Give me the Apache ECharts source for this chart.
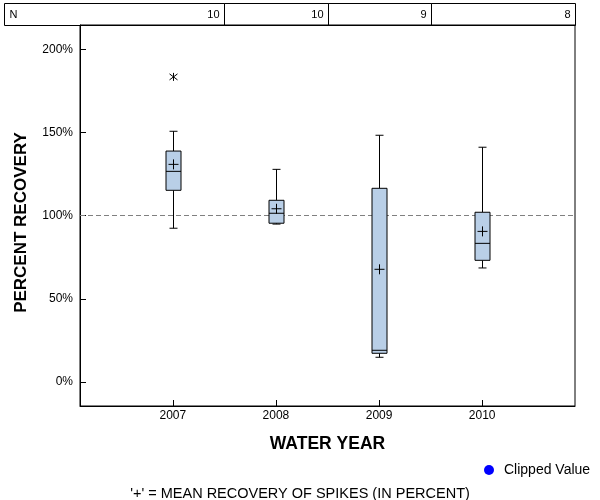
<!DOCTYPE html>
<html>
<head>
<meta charset="utf-8">
<script src="https://cdn.jsdelivr.net/npm/echarts@6/dist/echarts.min.js"></script>
<style>html,body{margin:0;padding:0;background:#fff}#c{width:600px;height:500px}</style>
</head>
<body>
<div id="c"></div>
<script>
// ---- data ----
var years = [2007, 2008, 2009, 2010];
var counts = [10, 10, 9, 8];
var whiskerLow = [92.5, 95.0, 14.9, 68.6];
var q1 = [115.3, 95.5, 17.3, 73.2];
var median = [126.7, 101.5, 19.1, 83.4];
var q3 = [138.9, 109.3, 116.5, 102.1];
var whiskerHigh = [150.8, 127.9, 148.4, 141.2];
var means = [130.9, 104.2, 67.8, 90.6];
var outlierYears = [2007];
var outlierValues = [183.5];
var yTicks = [0, 50, 100, 150, 200];
var referenceValue = 100;

var FONT = "'Liberation Sans', Arial, sans-serif";
var boxData = years.map(function (y, i) {
  return [y, whiskerLow[i], q1[i], median[i], q3[i], whiskerHigh[i], means[i]];
});
var tableData = years.map(function (y, i) { return [y, counts[i], i]; });
var outlierData = outlierYears.map(function (y, i) { return [y, outlierValues[i]]; });

var chart = echarts.init(document.getElementById('c'), null, {renderer: 'canvas'});
var lineStyle = {stroke: '#000', lineWidth: 1};

function renderBox(params, api) {
  var x = api.value(0);
  var pLow = api.coord([x, api.value(1)]);
  var pQ1 = api.coord([x, api.value(2)]);
  var pMed = api.coord([x, api.value(3)]);
  var pQ3 = api.coord([x, api.value(4)]);
  var pHigh = api.coord([x, api.value(5)]);
  var pMean = api.coord([x, api.value(6)]);
  var cx = Math.round(pMed[0]) + 0.5;
  var hw = 7.5, cw = 4, mw = 5;
  function ln(x1, y1, x2, y2) {
    return {type: 'line', shape: {x1: x1, y1: y1, x2: x2, y2: y2}, style: lineStyle};
  }
  return {
    type: 'group',
    children: [
      ln(cx, pHigh[1], cx, pQ3[1]),
      ln(cx, pQ1[1], cx, pLow[1]),
      ln(cx - cw, pHigh[1], cx + cw, pHigh[1]),
      ln(cx - cw, pLow[1], cx + cw, pLow[1]),
      {type: 'rect', shape: {x: cx - hw, y: pQ3[1], width: hw * 2, height: pQ1[1] - pQ3[1]},
        style: {fill: '#B9CFE7', stroke: '#000', lineWidth: 1}},
      ln(cx - hw, pMed[1], cx + hw, pMed[1]),
      ln(cx - mw, pMean[1], cx + mw, pMean[1]),
      ln(cx, pMean[1] - mw, cx, pMean[1] + mw)
    ]
  };
}

function renderOutlier(params, api) {
  var p = api.coord([api.value(0), api.value(1)]);
  var cx = Math.round(p[0]) + 0.5, cy = p[1];
  function ln(x1, y1, x2, y2) {
    return {type: 'line', shape: {x1: x1, y1: y1, x2: x2, y2: y2}, style: lineStyle};
  }
  return {type: 'group', children: [
    ln(cx, cy - 4, cx, cy + 4),
    ln(cx - 4, cy - 3, cx + 4, cy + 3),
    ln(cx - 4, cy + 3, cx + 4, cy - 3)
  ]};
}

var X_MIN = 2006.1, X_MAX = 2010.9;

function renderTable(params, api) {
  var x = api.value(0);
  var idx = api.value(2);
  var cs = params.coordSys;
  var bottom = cs.y;
  var top = cs.y - 22;
  var left = idx === 0 ? cs.x - 76 : api.coord([x - 0.5, 0])[0];
  var right = idx === years.length - 1 ? api.coord([X_MAX, 0])[0] : api.coord([x + 0.5, 0])[0];
  left = Math.round(left) + 0.5; right = Math.round(right) + 0.5;
  var children = [
    {type: 'rect', shape: {x: left, y: top + 0.5, width: right - left, height: bottom - top},
      style: {fill: 'none', stroke: '#000', lineWidth: 1}},
    {type: 'text', style: {text: String(api.value(1)), x: right - 5, y: (top + bottom) / 2 + 1,
      align: 'right', verticalAlign: 'middle', font: '11px ' + FONT, fill: '#000'}}
  ];
  if (idx === 0) {
    children.push({type: 'text', style: {text: 'N', x: left + 5, y: (top + bottom) / 2 + 1,
      align: 'left', verticalAlign: 'middle', font: '11px ' + FONT, fill: '#000'}});
  }
  return {type: 'group', children: children};
}

var option = {
  animation: false,
  backgroundColor: '#fff',
  title: {
    text: "'+' = MEAN RECOVERY OF SPIKES (IN PERCENT)",
    left: 'center', top: 481,
    textStyle: {fontFamily: FONT, fontSize: 14.5, fontWeight: 'normal', color: '#000'}
  },
  legend: {
    data: [{name: 'Clipped Value', icon: 'circle'}],
    left: 479, top: 458,
    itemWidth: 10, itemHeight: 10,
    itemStyle: {opacity: 1},
    textStyle: {fontFamily: FONT, fontSize: 14, color: '#000', padding: [0, 0, 0, 5]}
  },
  grid: {
    left: 80, right: 25, top: 25, bottom: 94,
    show: true, borderColor: '#000', borderWidth: 1, backgroundColor: 'transparent'
  },
  xAxis: {
    type: 'value', min: X_MIN, max: X_MAX,
    name: 'WATER YEAR', nameLocation: 'middle', nameGap: 29,
    nameTextStyle: {fontFamily: FONT, fontSize: 17.5, fontWeight: 'bold', color: '#000'},
    axisLine: {show: true, onZero: false, lineStyle: {color: '#000', width: 1}},
    axisTick: {show: true, inside: true, length: 6, customValues: years, lineStyle: {color: '#000'}},
    axisLabel: {customValues: years, fontFamily: FONT, fontSize: 12, color: '#000', margin: 4,
      formatter: function (v) { return String(v); }},
    splitLine: {show: false}
  },
  yAxis: {
    type: 'value', min: -14.4, max: 214.7,
    name: 'PERCENT RECOVERY', nameLocation: 'middle', nameGap: 50,
    nameTextStyle: {fontFamily: FONT, fontSize: 17, fontWeight: 'bold', color: '#000',
      padding: [0, 14, 0, 0]},
    axisLine: {show: true, onZero: false, lineStyle: {color: '#000', width: 1}},
    axisTick: {show: true, inside: true, length: 6, customValues: yTicks, lineStyle: {color: '#000'}},
    axisLabel: {customValues: yTicks, fontFamily: FONT, fontSize: 12, color: '#000', margin: 7,
      formatter: '{value}%'},
    splitLine: {show: false}
  },
  series: [
    {
      type: 'custom', name: 'N', data: tableData, renderItem: renderTable, clip: false,
      encode: {x: 0, y: 1}, silent: true, z: 1
    },
    {
      type: 'custom', name: 'box', data: boxData, renderItem: renderBox,
      encode: {x: 0, y: [1, 2, 3, 4, 5, 6]}, z: 3,
      markLine: {
        silent: true, symbol: ['none', 'none'], label: {show: false},
        lineStyle: {color: '#808080', type: [5, 3], width: 1},
        data: [{yAxis: referenceValue}],
        z: 2
      }
    },
    {
      type: 'custom', name: 'outlier', data: outlierData, renderItem: renderOutlier,
      encode: {x: 0, y: 1}, z: 3
    },
    {
      type: 'scatter', name: 'Clipped Value', data: [], itemStyle: {color: '#0000FF', opacity: 1}
    }
  ]
};
chart.setOption(option);
</script>
</body>
</html>
